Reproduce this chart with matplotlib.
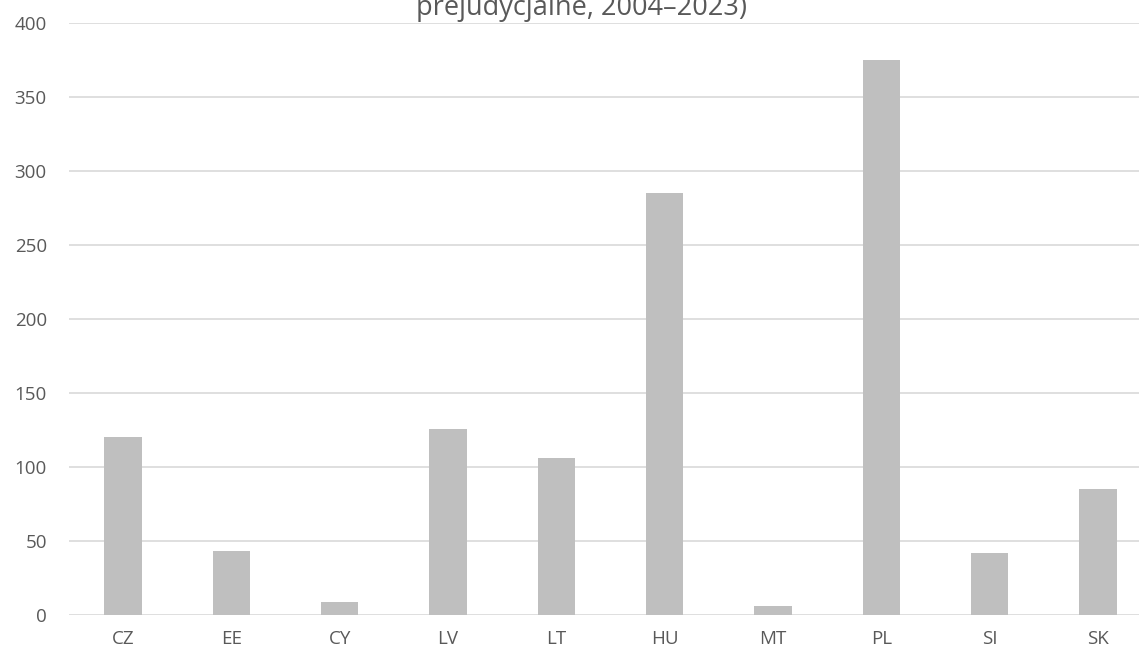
import matplotlib.pyplot as plt

# Wnioski o wydanie orzeczenia prejudycjalnego, 2004-2023
countries = ['CZ', 'EE', 'CY', 'LV', 'LT', 'HU', 'MT', 'PL', 'SI', 'SK']
requests = [120, 43, 9, 126, 106, 285, 6, 375, 42, 85]
y_ticks = [0, 50, 100, 150, 200, 250, 300, 350, 400]

plt.rcParams['font.family'] = ['Open Sans', 'DejaVu Sans']

fig = plt.figure(figsize=(11.39, 6.55), dpi=100)
# osie siegaja poza prawa krawedz obrazka
ax = fig.add_axes([69 / 1139, 40 / 655, 1083 / 1139, 592 / 655])

x = range(len(countries))
ax.bar(x, requests, width=0.345, color='#bfbfbf', zorder=3)

ax.set_xlim(-0.5, len(countries) - 0.5)
ax.set_ylim(0, 400)
ax.set_yticks(y_ticks)
ax.set_xticks(list(x))
ax.set_xticklabels(countries)
ax.tick_params(axis='both', length=0, labelsize=13.5, colors='#595959')
ax.tick_params(axis='x', pad=11)
ax.tick_params(axis='y', pad=16)

ax.grid(axis='y', color='#d9d9d9', linewidth=1.2, zorder=0)
for side in ['top', 'right', 'left', 'bottom']:
    ax.spines[side].set_visible(False)

fig.text(582 / 1139, 1 - 15 / 655, 'prejudycjalne, 2004\u20132023)',
         ha='center', va='baseline', fontsize=19.5, color='#595959')

fig.savefig('out.png', dpi=100)
